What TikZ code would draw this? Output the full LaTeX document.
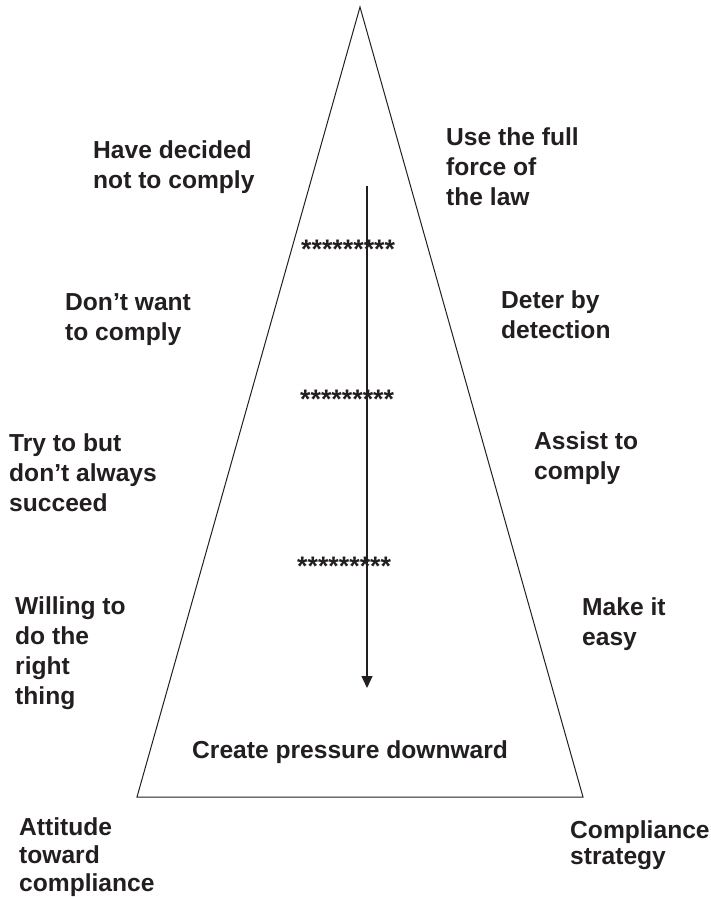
\documentclass[tikz,border=0pt]{standalone}
\usepackage{fontspec}
\setmainfont{Liberation Sans}
\usetikzlibrary{arrows.meta}
\definecolor{ink}{RGB}{35,31,32}
\begin{document}
\begin{tikzpicture}[x=1pt,y=-1pt,
  % labels are placed by the baseline of their last line
  lbl/.style={anchor=base west, inner sep=0pt, align=left, text=ink,
    font={\fontsize{24.6pt}{30pt}\selectfont\bfseries}},
  tight/.style={font={\fontsize{24.6pt}{28pt}\selectfont\bfseries}},
  tighter/.style={font={\fontsize{24.6pt}{26pt}\selectfont\bfseries}},
  stars/.style={anchor=base west, inner sep=0pt, text=ink,
    font={\fontsize{26.8pt}{30pt}\selectfont\bfseries}},
  edge/.style={draw=ink, line width=1pt, line join=miter},
  push/.style={draw=ink, line width=1.3pt, -{Triangle[width=11pt,length=12pt]}}]
\useasboundingbox (0,0) rectangle (711,899);

% pyramid
\coordinate (apex) at (360,7);
\coordinate (bl) at (137,797);
\coordinate (br) at (583,797);
\draw[edge] (apex) -- (br) -- (bl) -- cycle;

% downward pressure arrow
\coordinate (top) at (367,186);
\coordinate (tip) at (367,688);
\draw[push] (top) -- (tip);

% level separators
\node[stars] (s1) at (301,258) {*********};
\node[stars] (s2) at (300,408) {*********};
\node[stars] (s3) at (297,575) {*********};

% attitudes (left)
\node[lbl] (a1) at (93,188) {Have decided\\not to comply};
\node[lbl] (a2) at (65,340) {Don’t want\\to comply};
\node[lbl] (a3) at (9,511) {Try to but\\don’t always\\succeed};
\node[lbl] (a4) at (15,704) {Willing to\\do the\\right\\thing};

% strategies (right)
\node[lbl] (r1) at (446,205) {Use the full\\force of\\the law};
\node[lbl] (r2) at (501,338) {Deter by\\detection};
\node[lbl] (r3) at (534,479) {Assist to\\comply};
\node[lbl] (r4) at (582,645) {Make it\\easy};

\node[lbl] (cp) at (192,758) {Create pressure downward};

% axis captions
\node[lbl,tight] (att) at (19,891) {Attitude\\toward\\compliance};
\node[lbl,tighter] (str) at (570,864) {Compliance\\strategy};
\end{tikzpicture}
\end{document}
